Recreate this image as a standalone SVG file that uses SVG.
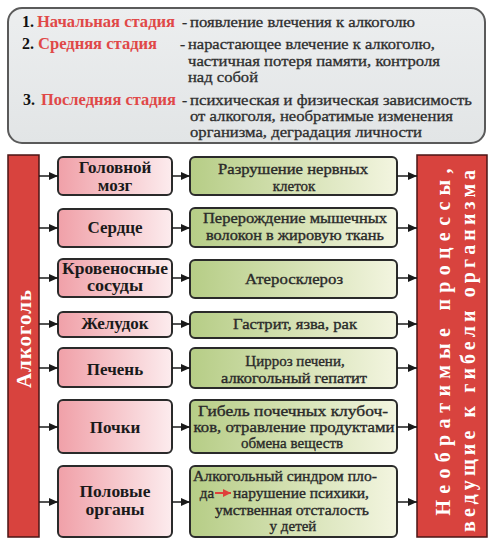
<svg xmlns="http://www.w3.org/2000/svg" width="491" height="545" viewBox="0 0 491 545">
<defs>
  <linearGradient id="pink" x1="0" y1="0" x2="1" y2="0">
    <stop offset="0" stop-color="#f0a0a8"/>
    <stop offset="1" stop-color="#fcecee"/>
  </linearGradient>
  <linearGradient id="green" x1="0" y1="0" x2="1" y2="0">
    <stop offset="0" stop-color="#b6cd86"/>
    <stop offset="1" stop-color="#f3f5e0"/>
  </linearGradient>
  <linearGradient id="grey" x1="0" y1="0" x2="0" y2="1">
    <stop offset="0" stop-color="#eceeef"/>
    <stop offset="1" stop-color="#e2e5e6"/>
  </linearGradient>
  <marker id="ah" markerWidth="9" markerHeight="8" refX="9" refY="4" orient="auto" markerUnits="userSpaceOnUse">
    <path d="M0,0 L9,4 L0,8 z" fill="#1a1a1a"/>
  </marker>
  <marker id="ahr" markerWidth="8" markerHeight="8" refX="8" refY="4" orient="auto" markerUnits="userSpaceOnUse">
    <path d="M0,0 L8,4 L0,8 z" fill="#e0403a"/>
  </marker>
</defs>
<style>
  .organ { fill: url(#pink); stroke: #2a2a2a; stroke-width: 2; }
  .effect { fill: url(#green); stroke: #2a2a2a; stroke-width: 2; }
  .bar { fill: #d8433e; stroke: #4a1515; stroke-width: 1.5; }
  .ot { font-family: "Liberation Serif", "DejaVu Serif", serif; font-weight: bold; font-size: 17px; fill: #1a1a1a; text-anchor: middle; }
  .ot2 { font-size: 16px; }
  .et { font-family: "Liberation Serif", "DejaVu Serif", serif; font-size: 15px; fill: #2a2a2a; stroke: #2a2a2a; stroke-width: 0.35; text-anchor: middle; }
  .tt { font-family: "Liberation Serif", "DejaVu Serif", serif; font-size: 15.5px; fill: #2e2e2e; stroke: #2e2e2e; stroke-width: 0.3; }
  .tb { font-family: "Liberation Serif", "DejaVu Serif", serif; font-weight: bold; font-size: 16px; }
  .red { fill: #e04848; }
  .num { fill: #111; }
  .bt { font-family: "Liberation Serif", "DejaVu Serif", serif; font-weight: bold; fill: #ffffff; text-anchor: middle; }
  .conn line { stroke: #1a1a1a; stroke-width: 1.5; }
</style>
<rect width="491" height="545" fill="#ffffff"/>

<g id="stages">
  <rect x="8" y="8" width="477" height="135" rx="14" fill="url(#grey)" stroke="#5a5a5a" stroke-width="2"/>
  <text class="tb num" x="22" y="27">1.</text>
  <text class="tb red" x="37" y="27" textLength="138" lengthAdjust="spacingAndGlyphs">Начальная стадия</text>
  <text class="tt" x="182" y="27">-</text>
  <text class="tt" x="190" y="27" textLength="225" lengthAdjust="spacingAndGlyphs">появление влечения к алкоголю</text>
  <text class="tb num" x="22" y="49">2.</text>
  <text class="tb red" x="38" y="49" textLength="119" lengthAdjust="spacingAndGlyphs">Средняя стадия</text>
  <text class="tt" x="180" y="49">-</text>
  <text class="tt" x="188" y="49" textLength="247" lengthAdjust="spacingAndGlyphs">нарастающее влечение к алкоголю,</text>
  <text class="tt" x="188" y="66" textLength="252" lengthAdjust="spacingAndGlyphs">частичная потеря памяти, контроля</text>
  <text class="tt" x="188" y="82" textLength="70" lengthAdjust="spacingAndGlyphs">над собой</text>
  <text class="tb num" x="23" y="105">3.</text>
  <text class="tb red" x="41" y="105" textLength="135" lengthAdjust="spacingAndGlyphs">Последняя стадия</text>
  <text class="tt" x="182" y="105">-</text>
  <text class="tt" x="190" y="105" textLength="282" lengthAdjust="spacingAndGlyphs">психическая и физическая зависимость</text>
  <text class="tt" x="190" y="121" textLength="263" lengthAdjust="spacingAndGlyphs">от алкоголя, необратимые изменения</text>
  <text class="tt" x="190" y="137" textLength="232" lengthAdjust="spacingAndGlyphs">организма, деградация личности</text>
</g>

<g id="alcohol">
  <rect class="bar" x="8" y="155" width="31" height="382"/>
  <text class="bt" font-size="21" transform="translate(31,339) rotate(-90)" textLength="98" lengthAdjust="spacing">Алкоголь</text>
</g>

<g id="outcome">
  <rect class="bar" x="417" y="155" width="70" height="382"/>
  <text class="bt" font-size="20" transform="translate(450,342) rotate(-90)" textLength="347" lengthAdjust="spacing">Необратимые процессы,</text>
  <text class="bt" font-size="20" transform="translate(475,351) rotate(-90)" textLength="362" lengthAdjust="spacing">ведущие к гибели организма</text>
</g>

<g id="brain">
  <rect class="organ" x="58" y="157" width="114" height="38" rx="5"/>
  <text class="ot" x="115" y="173">Головной</text>
  <text class="ot" x="115" y="191">мозг</text>
</g>
<g id="brain-effect">
  <rect class="effect" x="190" y="157" width="207" height="38" rx="5"/>
  <text class="et" x="293" y="174" textLength="150" lengthAdjust="spacingAndGlyphs">Разрушение нервных</text>
  <text class="et" x="294" y="191">клеток</text>
</g>

<g id="heart">
  <rect class="organ" x="58" y="209" width="114" height="38" rx="5"/>
  <text class="ot" x="115" y="233">Сердце</text>
</g>
<g id="heart-effect">
  <rect class="effect" x="190" y="208" width="207" height="39" rx="5"/>
  <text class="et" x="295" y="223" textLength="184" lengthAdjust="spacingAndGlyphs">Перерождение мышечных</text>
  <text class="et" x="295" y="240" textLength="178" lengthAdjust="spacingAndGlyphs">волокон в жировую ткань</text>
</g>

<g id="vessels">
  <rect class="organ" x="58" y="259" width="114" height="38" rx="5"/>
  <text class="ot ot2" x="115" y="274" textLength="106" lengthAdjust="spacingAndGlyphs">Кровеносные</text>
  <text class="ot ot2" x="115" y="291" textLength="56" lengthAdjust="spacingAndGlyphs">сосуды</text>
</g>
<g id="vessels-effect">
  <rect class="effect" x="190" y="260" width="207" height="38" rx="5"/>
  <text class="et" x="294" y="284" textLength="98" lengthAdjust="spacingAndGlyphs">Атеросклероз</text>
</g>

<g id="stomach">
  <rect class="organ" x="58" y="312" width="114" height="25" rx="5"/>
  <text class="ot" x="115" y="329">Желудок</text>
</g>
<g id="stomach-effect">
  <rect class="effect" x="190" y="312" width="207" height="26" rx="5"/>
  <text class="et" x="295" y="329" textLength="124" lengthAdjust="spacingAndGlyphs">Гастрит, язва, рак</text>
</g>

<g id="liver">
  <rect class="organ" x="58" y="348" width="114" height="39" rx="5"/>
  <text class="ot" x="115" y="375">Печень</text>
</g>
<g id="liver-effect">
  <rect class="effect" x="190" y="348" width="207" height="40" rx="5"/>
  <text class="et" x="295" y="366">Цирроз печени,</text>
  <text class="et" x="294" y="383" textLength="146" lengthAdjust="spacingAndGlyphs">алкогольный гепатит</text>
</g>

<g id="kidneys">
  <rect class="organ" x="58" y="400" width="114" height="53" rx="5"/>
  <text class="ot" x="115" y="433">Почки</text>
</g>
<g id="kidneys-effect">
  <rect class="effect" x="190" y="400" width="207" height="53" rx="5"/>
  <text class="et" x="293" y="416" textLength="190" lengthAdjust="spacingAndGlyphs">Гибель почечных клубоч-</text>
  <text class="et" x="294" y="432" textLength="201" lengthAdjust="spacingAndGlyphs">ков, отравление продуктами</text>
  <text class="et" x="292" y="448">обмена веществ</text>
</g>

<g id="genitals">
  <rect class="organ" x="58" y="466" width="114" height="71" rx="5"/>
  <text class="ot ot2" x="115" y="497" textLength="71" lengthAdjust="spacingAndGlyphs">Половые</text>
  <text class="ot ot2" x="115" y="515" textLength="59" lengthAdjust="spacingAndGlyphs">органы</text>
</g>
<g id="genitals-effect">
  <rect class="effect" x="190" y="466" width="207" height="71" rx="5"/>
  <text class="et" x="285" y="481" textLength="184" lengthAdjust="spacingAndGlyphs">Алкогольный синдром пло-</text>
  <text class="et" x="207" y="498">да</text>
  <line x1="215" y1="493" x2="231" y2="493" stroke="#e0403a" stroke-width="2" marker-end="url(#ahr)"/>
  <text class="et" x="233" y="498" style="text-anchor:start" textLength="136" lengthAdjust="spacingAndGlyphs">нарушение психики,</text>
  <text class="et" x="292" y="515" textLength="154" lengthAdjust="spacingAndGlyphs">умственная отсталость</text>
  <text class="et" x="293" y="531">у детей</text>
</g>

<g id="connectors" class="conn">
  <line x1="39" y1="176" x2="58" y2="176" marker-end="url(#ah)"/>
  <line x1="39" y1="228" x2="58" y2="228" marker-end="url(#ah)"/>
  <line x1="39" y1="278" x2="58" y2="278" marker-end="url(#ah)"/>
  <line x1="39" y1="324" x2="58" y2="324" marker-end="url(#ah)"/>
  <line x1="39" y1="368" x2="58" y2="368" marker-end="url(#ah)"/>
  <line x1="39" y1="427" x2="58" y2="427" marker-end="url(#ah)"/>
  <line x1="39" y1="502" x2="58" y2="502" marker-end="url(#ah)"/>
  <line x1="172" y1="176" x2="190" y2="176" marker-end="url(#ah)"/>
  <line x1="172" y1="228" x2="190" y2="228" marker-end="url(#ah)"/>
  <line x1="172" y1="278" x2="190" y2="278" marker-end="url(#ah)"/>
  <line x1="172" y1="324" x2="190" y2="324" marker-end="url(#ah)"/>
  <line x1="172" y1="368" x2="190" y2="368" marker-end="url(#ah)"/>
  <line x1="172" y1="427" x2="190" y2="427" marker-end="url(#ah)"/>
  <line x1="172" y1="502" x2="190" y2="502" marker-end="url(#ah)"/>
  <line x1="397" y1="176" x2="417" y2="176" marker-end="url(#ah)"/>
  <line x1="397" y1="228" x2="417" y2="228" marker-end="url(#ah)"/>
  <line x1="397" y1="278" x2="417" y2="278" marker-end="url(#ah)"/>
  <line x1="397" y1="324" x2="417" y2="324" marker-end="url(#ah)"/>
  <line x1="397" y1="368" x2="417" y2="368" marker-end="url(#ah)"/>
  <line x1="397" y1="427" x2="417" y2="427" marker-end="url(#ah)"/>
  <line x1="397" y1="502" x2="417" y2="502" marker-end="url(#ah)"/>
</g>
</svg>
